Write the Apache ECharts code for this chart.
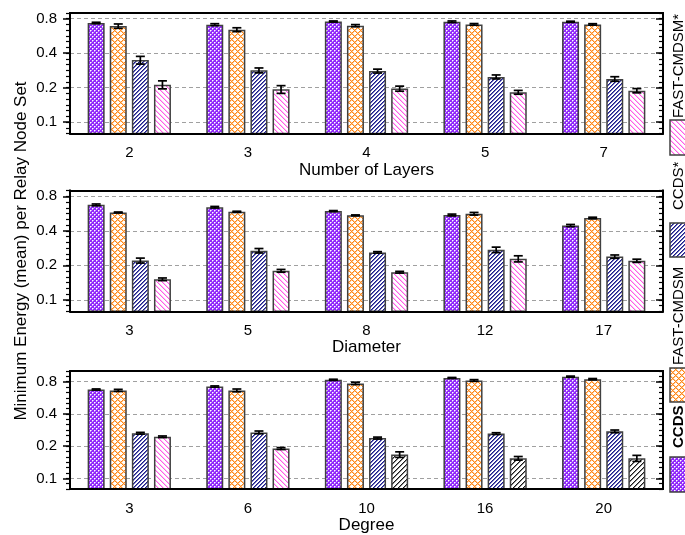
<!DOCTYPE html>
<html>
<head>
<meta charset="utf-8">
<script src="https://cdn.jsdelivr.net/npm/echarts@6/dist/echarts.min.js"></script>
<style>
  html, body { margin: 0; padding: 0; background: #fff; }
  #chart { width: 685px; height: 535px; }
</style>
</head>
<body>
<div id="chart"></div>
<script>
// ---- categories ----
const layers = ['2', '3', '4', '5', '7'];
const diameters = ['3', '5', '8', '12', '17'];
const degrees = ['3', '6', '10', '16', '20'];
const seriesNames = ['CCDS', 'FAST-CMDSM', 'CCDS*', 'FAST-CMDSM*'];
const yTickValues = [0.1, 0.2, 0.4, 0.8];

// ---- Number of Layers: mean and error ----
const layersCCDS = [0.735, 0.710, 0.757, 0.753, 0.753];
const layersCCDSErr = [0.010, 0.014, 0.008, 0.012, 0.008];
const layersFast = [0.690, 0.642, 0.696, 0.714, 0.714];
const layersFastErr = [0.030, 0.025, 0.015, 0.012, 0.010];
const layersCCDSStar = [0.348, 0.283, 0.279, 0.248, 0.238];
const layersCCDSStarErr = [0.027, 0.014, 0.011, 0.010, 0.011];
const layersFastStar = [0.212, 0.193, 0.196, 0.182, 0.188];
const layersFastStarErr = [0.017, 0.015, 0.010, 0.007, 0.008];

// ---- Diameter ----
const diamCCDS = [0.673, 0.642, 0.594, 0.549, 0.444];
const diamCCDSErr = [0.012, 0.010, 0.006, 0.010, 0.010];
const diamFast = [0.578, 0.586, 0.545, 0.563, 0.517];
const diamFastErr = [0.005, 0.006, 0.005, 0.015, 0.008];
const diamCCDSStar = [0.220, 0.268, 0.259, 0.273, 0.238];
const diamCCDSStarErr = [0.011, 0.012, 0.004, 0.015, 0.008];
const diamFastStar = [0.151, 0.179, 0.174, 0.228, 0.219];
const diamFastStarErr = [0.004, 0.005, 0.003, 0.014, 0.007];

// ---- Degree ----
const degCCDS = [0.677, 0.721, 0.834, 0.869, 0.893];
const degCCDSErr = [0.008, 0.010, 0.010, 0.008, 0.010];
const degFast = [0.664, 0.664, 0.772, 0.822, 0.845];
const degFastErr = [0.015, 0.020, 0.020, 0.015, 0.012];
const degCCDSStar = [0.264, 0.269, 0.238, 0.262, 0.275];
const degCCDSStarErr = [0.005, 0.008, 0.005, 0.005, 0.008];
const degFastStar = [0.245, 0.190, 0.167, 0.154, 0.154];
const degFastStarErr = [0.004, 0.004, 0.010, 0.006, 0.010];
// bars of the last Degree series drawn with the dark hatch
const degFastStarDark = [false, false, true, true, true];

// ---- log scale helpers: axis unit = 1/6 of a doubling above BASE ----
const BASE = 0.05;
const SUB = 6;
const toAxis = v => SUB * Math.log2(v / BASE);
const fromAxis = t => BASE * Math.pow(2, t / SUB);

// ---- crisp pixel hatch tiles ----
function pixelTile(size, bg, colorAt) {
  const c = document.createElement('canvas');
  c.width = c.height = size;
  const g = c.getContext('2d');
  g.fillStyle = bg; g.fillRect(0, 0, size, size);
  for (let y = 0; y < size; y++) {
    for (let x = 0; x < size; x++) {
      const col = colorAt(x, y);
      if (col) { g.fillStyle = col; g.fillRect(x, y, 1, 1); }
    }
  }
  return { image: c, repeat: 'repeat' };
}
const mod = (a, n) => ((a % n) + n) % n;

// purple with a white dot lattice
const fillPurple = pixelTile(4, '#9128fb', (x, y) => {
  if ((x === 0 && y === 0) || (x === 2 && y === 2)) return '#ffffff';
  if ((x === 1 && y === 0) || (x === 0 && y === 1) || (x === 3 && y === 2) || (x === 2 && y === 3)) return '#c99dfd';
  return null;
});
// orange diamond lattice
const fillOrange = pixelTile(6, '#ffffff', (x, y) => {
  const a = mod(x + y, 6), b = mod(x - y, 6);
  if (a === 0 || b === 0) return '#ff8619';
  if (a === 1 || b === 1) return '#ffc890';
  return null;
});
// navy "/" stripes
const fillBlue = pixelTile(4, '#ffffff', (x, y) => {
  const a = mod(x + y, 4);
  if (a === 0) return '#1d1d8a';
  if (a === 1) return '#6a6ab8';
  return null;
});
// pink "\" stripes
const fillPink = pixelTile(5, '#ffffff', (x, y) => {
  const a = mod(x - y, 5);
  if (a === 0) return '#ff5ce6';
  if (a === 1) return '#ffc2f5';
  return null;
});
// dark "/" stripes
const fillDark = pixelTile(5, '#ffffff', (x, y) => {
  const a = mod(x + y, 5);
  if (a === 0) return '#1a1a1a';
  if (a === 1) return '#8a8a8a';
  return null;
});
const fills = [fillPurple, fillOrange, fillBlue, fillPink];

// ---- panels ----
const panels = [
  { cats: layers, title: 'Number of Layers',
    values: [layersCCDS, layersFast, layersCCDSStar, layersFastStar],
    errors: [layersCCDSErr, layersFastErr, layersCCDSStarErr, layersFastStarErr] },
  { cats: diameters, title: 'Diameter',
    values: [diamCCDS, diamFast, diamCCDSStar, diamFastStar],
    errors: [diamCCDSErr, diamFastErr, diamCCDSStarErr, diamFastStarErr] },
  { cats: degrees, title: 'Degree',
    values: [degCCDS, degFast, degCCDSStar, degFastStar],
    errors: [degCCDSErr, degFastErr, degCCDSStarErr, degFastStarErr] }
];
// plot boxes and visible y extents (in axis units)
const layout = [
  { top: 13, height: 120.5, min: 4, max: 25 },
  { top: 190.5, height: 120.8, min: 4, max: 25 },
  { top: 371, height: 121, min: 4, max: 26 }
];

const FONT = '"Liberation Sans", Arial, Helvetica, sans-serif';
const BAR_W = 17, BAR_GAP = 0.3;
const STEP = BAR_W * (1 + BAR_GAP);
const majorTicks = yTickValues.map(v => Math.round(toAxis(v)));
const isMajor = t => majorTicks.indexOf(Math.round(t)) >= 0 && Math.abs(t - Math.round(t)) < 1e-6;

const grid = [], xAxis = [], yAxis = [], series = [];
panels.forEach((p, pi) => {
  const L = layout[pi];
  grid.push({ left: 70, right: 22, top: L.top, height: L.height, containLabel: false });
  xAxis.push({
    type: 'category', gridIndex: pi, data: p.cats, position: 'bottom', z: 10,
    axisLine: { lineStyle: { color: '#000', width: 2 } },
    axisTick: { alignWithLabel: true, length: 7, lineStyle: { color: '#000', width: 1.5 } },
    axisLabel: { color: '#000', fontSize: 15, fontFamily: FONT, margin: 12 },
    name: p.title, nameLocation: 'middle', nameGap: 26,
    nameTextStyle: { color: '#000', fontSize: 17, fontFamily: FONT },
    splitLine: { show: false }
  });
  xAxis.push({
    type: 'category', gridIndex: pi, data: p.cats, position: 'top', z: 10,
    axisLine: { lineStyle: { color: '#000', width: 2 } },
    axisTick: { show: false }, axisLabel: { show: false }, splitLine: { show: false }
  });
  const baseY = { type: 'value', gridIndex: pi, min: L.min, max: L.max, z: 10, splitLine: { show: false } };
  // left: frame line, labels at the doublings and a tick every sixth of a doubling
  yAxis.push(Object.assign({}, baseY, {
    position: 'left', interval: 1,
    axisLine: { show: true, lineStyle: { color: '#000', width: 2 } },
    axisTick: { show: true, length: 4, lineStyle: { color: '#000', width: 1.2 } },
    axisLabel: { color: '#000', fontSize: 15, fontFamily: FONT, margin: 13,
      showMinLabel: true, showMaxLabel: true,
      formatter: v => (isMajor(v) ? fromAxis(v).toFixed(1) : '') }
  }));
  // left: longer ticks at the labelled values
  yAxis.push(Object.assign({}, baseY, {
    position: 'left',
    axisLine: { show: true, lineStyle: { color: '#000', width: 2 } },
    axisTick: { show: true, customValues: majorTicks, length: 7, lineStyle: { color: '#000', width: 1.5 } },
    axisLabel: { show: false }
  }));
  // right: frame line with inward ticks
  yAxis.push(Object.assign({}, baseY, {
    position: 'right', interval: 1,
    axisLine: { show: true, lineStyle: { color: '#000', width: 2 } },
    axisTick: { show: true, inside: true, length: 4, lineStyle: { color: '#000', width: 1.2 } },
    axisLabel: { show: false }
  }));
  yAxis.push(Object.assign({}, baseY, {
    position: 'right',
    axisLine: { show: true, lineStyle: { color: '#000', width: 2 } },
    axisTick: { show: true, inside: true, customValues: majorTicks, length: 7, lineStyle: { color: '#000', width: 1.5 } },
    axisLabel: { show: false }
  }));

  p.values.forEach((vals, si) => {
    const data = vals.map((v, i) => {
      if (pi === 2 && si === 3 && degFastStarDark[i]) {
        return { value: toAxis(v), itemStyle: { color: fillDark } };
      }
      return toAxis(v);
    });
    const bar = {
      type: 'bar', name: seriesNames[si], xAxisIndex: pi * 2, yAxisIndex: pi * 4,
      barWidth: BAR_W, barGap: (BAR_GAP * 100) + '%', clip: true, z: 2,
      itemStyle: { color: fills[si], borderColor: '#404040', borderWidth: 1.5 },
      data
    };
    if (si === 0) {
      bar.markLine = {
        silent: true, symbol: 'none', z: 1, animation: false,
        label: { show: false },
        lineStyle: { color: '#a0a0a0', type: [4, 3], width: 1.2 },
        data: majorTicks.map(t => ({ yAxis: t }))
      };
    }
    series.push(bar);

    const offset = (si - 1.5) * STEP;
    const errs = p.errors[si];
    series.push({
      type: 'custom', name: seriesNames[si] + ' error', xAxisIndex: pi * 2, yAxisIndex: pi * 4, z: 4,
      data: vals.map((v, i) => [i, toAxis(v - errs[i]), toAxis(v + errs[i])]),
      encode: { x: 0, y: [1, 2] },
      renderItem: (params, api) => {
        const c = api.value(0);
        const lo = api.coord([c, api.value(1)]);
        const hi = api.coord([c, api.value(2)]);
        const x = lo[0] + offset;
        const cap = 4.5;
        const st = { stroke: '#000', lineWidth: 1.7 };
        return {
          type: 'group', children: [
            { type: 'line', shape: { x1: x, y1: lo[1], x2: x, y2: hi[1] }, style: st },
            { type: 'line', shape: { x1: x - cap, y1: hi[1], x2: x + cap, y2: hi[1] }, style: st },
            { type: 'line', shape: { x1: x - cap, y1: lo[1], x2: x + cap, y2: lo[1] }, style: st }
          ]
        };
      }
    });
  });
});

// ---- vertical legend and shared y-axis title ----
const legendSwatches = [
  { y1: 457, y2: 492 }, { y1: 368, y2: 402 }, { y1: 223, y2: 257 }, { y1: 120, y2: 155 }
];
const legendTextStart = [448, 365, 210, 118];
const graphic = [
  {
    type: 'text', x: 21, y: 251, rotation: Math.PI / 2,
    style: { text: 'Minimum Energy (mean) per Relay Node Set', fill: '#000',
      font: '17px ' + FONT, textAlign: 'center', textVerticalAlign: 'middle',
      align: 'center', verticalAlign: 'middle' }
  }
];
seriesNames.forEach((name, i) => {
  const s = legendSwatches[i];
  graphic.push({
    type: 'rect', shape: { x: 670, y: s.y1, width: 17, height: s.y2 - s.y1 },
    style: { fill: fills[i], stroke: '#404040', lineWidth: 1.5 }
  });
  graphic.push({
    type: 'text', x: 678.5, y: legendTextStart[i], rotation: Math.PI / 2,
    style: { text: name, fill: '#000',
      font: (i === 0 ? 'bold ' : '') + '15px ' + FONT,
      textAlign: 'left', textVerticalAlign: 'middle', align: 'left', verticalAlign: 'middle' }
  });
});

const chart = echarts.init(document.getElementById('chart'), null, { renderer: 'canvas' });
chart.setOption({
  animation: false,
  backgroundColor: '#fff',
  textStyle: { fontFamily: FONT },
  grid, xAxis, yAxis, series, graphic
});
</script>
</body>
</html>
